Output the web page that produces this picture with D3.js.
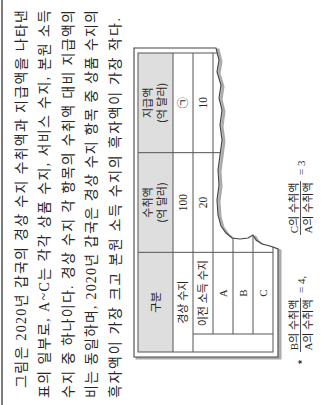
<!DOCTYPE html>
<html><head><meta charset="utf-8">
<script src="https://cdn.jsdelivr.net/npm/d3@7"></script>
<style>html,body{margin:0;padding:0;background:#fff;}svg{display:block;}</style>
</head><body>
<script>
// ---- data ----
const bodyLines = [
  "그림은 2020년 갑국의 경상 수지 수취액과 지급액을 나타낸",
  "표의 일부로, A~C는 각각 상품 수지, 서비스 수지, 본원 소득",
  "수지 중 하나이다. 경상 수지 각 항목의 수취액 대비 지급액의",
  "비는 동일하며, 2020년 갑국은 경상 수지 항목 중 상품 수지의",
  "흑자액이 가장 크고 본원 소득 수지의 흑자액이 가장 작다."
];
const columns = ["구분", "수취액", "지급액"];
const unitLabel = "(억 달러)";
const rowLabels = ["경상 수지", "이전 소득 수지", "A", "B", "C"];
const receipts = ["100", "20", "", "", ""];
const payments = ["㉠", "10", "", "", ""];
const ratioNames = ["B", "C"];
const ratioValues = [4, 3];

// ---- layout ----
const W = 325, H = 405;
const svg = d3.select("body").append("svg").attr("width", W).attr("height", H);
// page is rotated 90deg counter-clockwise: x=u (along text), y=v (across lines)
const g = svg.append("g").attr("transform", `translate(0,${H}) rotate(-90)`);
const sans = "'Noto Sans CJK KR', sans-serif";
const mixed = "'Liberation Serif', 'Noto Sans CJK KR', serif";
const ink = "#262626";

// top border line
g.append("line").attr("x1", 0).attr("x2", H).attr("y1", 2).attr("y2", 2)
  .attr("stroke", "#333").attr("stroke-width", 1.3);

// body text
const lineY = d3.scaleLinear().domain([0, 4]).range([21, 114.6]);
const starts = [17, 7, 7, 7, 7], lens = [378, 388, 388, 388, 380];
g.selectAll("text.body").data(bodyLines).join("text").attr("class", "body")
  .attr("x", (d, i) => starts[i]).attr("y", (d, i) => lineY(i) + 5)
  .attr("textLength", (d, i) => lens[i]).attr("lengthAdjust", "spacing")
  .attr("font-family", mixed).attr("font-size", 14).attr("fill", ink).text(d => d);

// table geometry
const colX = d3.scaleBand().domain(columns).range([53, 352]);
const rowY = d3.scaleBand().domain(rowLabels).range([173, 273]);
const tTop = 138, tBot = 273, tL = 53, tR = 352, indentX = 71;

// torn frame (u, v)
const torn = [[357,216],[345,219],[333,217],[320,221],[307,219],[295,222],[280,220],[265,222],
  [250,220],[235,218],[220,219],[205,217],[190,218],[179,221],[172,226],[167,232],[166,240],
  [167,248],[170,253],[165,256],[161,262],[159,270],[156,278]];
const framePts = [[357,134],[48,134],[48,278]].concat(torn.slice().reverse());
const line = d3.line().curve(d3.curveLinear);
const framePath = line(framePts) + "Z";

g.append("path").attr("d", framePath).attr("transform", "translate(-1.5,2.5)")
  .attr("fill", "#bbb").attr("stroke", "#aaa").attr("stroke-width", 2);
g.append("path").attr("d", framePath).attr("fill", "#fff");

g.append("clipPath").attr("id", "tornclip").append("path").attr("d", framePath);
const tb = g.append("g").attr("clip-path", "url(#tornclip)");

// header fill
tb.append("rect").attr("x", tL).attr("y", tTop).attr("width", tR - tL).attr("height", 173 - tTop)
  .attr("fill", "#dedede");

const lc = "#555";
// outer table border
tb.append("rect").attr("x", tL).attr("y", tTop).attr("width", tR - tL).attr("height", tBot - tTop)
  .attr("fill", "none").attr("stroke", lc).attr("stroke-width", 1);
// column separators
columns.slice(1).forEach(c => {
  tb.append("line").attr("x1", colX(c)).attr("x2", colX(c)).attr("y1", tTop).attr("y2", tBot)
    .attr("stroke", lc);
});
// row separators
rowLabels.forEach((r, i) => {
  const y = rowY(r);
  tb.append("line").attr("x1", i <= 1 ? tL : indentX).attr("x2", tR)
    .attr("y1", y).attr("y2", y).attr("stroke", lc);
});
// indent column separator
tb.append("line").attr("x1", indentX).attr("x2", indentX).attr("y1", rowY("이전 소득 수지"))
  .attr("y2", tBot).attr("stroke", lc);

// header text
const hc = c => colX(c) + colX.bandwidth() / 2;
tb.append("text").attr("x", hc("구분")).attr("y", 159.5).attr("text-anchor", "middle")
  .attr("font-family", sans).attr("font-size", 11.5).attr("fill", ink).text(columns[0]);
columns.slice(1).forEach(c => {
  tb.append("text").attr("x", hc(c)).attr("y", 152).attr("text-anchor", "middle")
    .attr("font-family", sans).attr("font-size", 11).attr("fill", ink).text(c);
  tb.append("text").attr("x", hc(c)).attr("y", 165.5).attr("text-anchor", "middle")
    .attr("font-family", sans).attr("font-size", 11).attr("fill", ink).text(unitLabel);
});
// row labels and values
rowLabels.forEach((r, i) => {
  const cy = rowY(r) + rowY.bandwidth() / 2 + 4;
  const lx = i === 0 ? hc("구분") : (indentX + colX("수취액")) / 2;
  tb.append("text").attr("x", lx).attr("y", cy).attr("text-anchor", "middle")
    .attr("font-family", mixed).attr("font-size", 11).attr("fill", ink).text(r);
  if (receipts[i]) tb.append("text").attr("x", hc("수취액")).attr("y", cy).attr("text-anchor", "middle")
    .attr("font-family", mixed).attr("font-size", 11.5).attr("fill", ink).text(receipts[i]);
  if (payments[i]) tb.append("text").attr("x", hc("지급액")).attr("y", cy).attr("text-anchor", "middle")
    .attr("font-family", mixed).attr("font-size", 11.5).attr("fill", ink).text(payments[i]);
});

// frame outline
g.append("path").attr("d", framePath).attr("fill", "none").attr("stroke", "#444").attr("stroke-width", 1.1);

// footnote
const fn = g.append("g").attr("font-family", mixed).attr("font-size", 11).attr("fill", ink);
fn.append("text").attr("x", 43).attr("y", 308).attr("text-anchor", "middle")
  .attr("font-family", sans).attr("font-size", 13).text("*");
const fracCenters = [80, 197];
const eqStarts = [112, 230];
ratioNames.forEach((n, i) => {
  const cx = fracCenters[i];
  fn.append("text").attr("x", cx).attr("y", 297.5).attr("text-anchor", "middle").text(n + "의 수취액");
  fn.append("text").attr("x", cx).attr("y", 312).attr("text-anchor", "middle").text("A의 수취액");
  fn.append("line").attr("x1", cx - 27).attr("x2", cx + 27).attr("y1", 300.5).attr("y2", 300.5)
    .attr("stroke", ink).attr("stroke-width", 0.8);
  fn.append("text").attr("x", eqStarts[i]).attr("y", 305).text("= " + ratioValues[i] + (i === 0 ? "," : ""));
});
</script>
</body></html>
